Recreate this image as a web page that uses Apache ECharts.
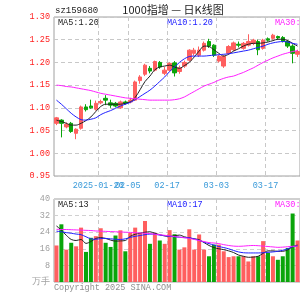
<!DOCTYPE html>
<html><head><meta charset="utf-8">
<script src="https://cdn.jsdelivr.net/npm/echarts/dist/echarts.min.js"></script>
<style>html,body{margin:0;padding:0;background:#fff}#c{width:300px;height:300px}</style>
</head><body><div id="c"></div>
<script>
const dates = ['2025-01-07','2025-01-08','2025-01-09','2025-01-10','2025-01-13','2025-01-14','2025-01-15','2025-01-16','2025-01-17',
 '2025-01-20','2025-01-21','2025-01-22','2025-01-23','2025-01-24','2025-01-27',
 '2025-02-05','2025-02-06','2025-02-07','2025-02-10','2025-02-11','2025-02-12','2025-02-13','2025-02-14',
 '2025-02-17','2025-02-18','2025-02-19','2025-02-20','2025-02-21','2025-02-24','2025-02-25','2025-02-26','2025-02-27','2025-02-28',
 '2025-03-03','2025-03-04','2025-03-05','2025-03-06','2025-03-07','2025-03-10','2025-03-11','2025-03-12','2025-03-13','2025-03-14',
 '2025-03-17','2025-03-18','2025-03-19','2025-03-20','2025-03-21','2025-03-24','2025-03-25'];
const opens  = [1.066,1.073,1.058,1.066,1.044,1.055,1.102,1.104,1.097,1.111,1.121,1.111,1.110,1.100,1.113,1.113,1.117,1.160,1.174,1.187,1.183,1.200,1.176,1.183,1.199,1.180,1.192,1.205,1.220,1.216,1.227,1.246,1.238,1.203,1.192,1.220,1.228,1.240,1.231,1.238,1.242,1.246,1.231,1.252,1.253,1.257,1.255,1.246,1.236,1.218];
const closes = [1.078,1.066,1.064,1.048,1.053,1.102,1.096,1.100,1.110,1.114,1.117,1.106,1.104,1.113,1.110,1.117,1.157,1.168,1.194,1.181,1.202,1.190,1.183,1.198,1.177,1.188,1.200,1.227,1.227,1.227,1.242,1.236,1.216,1.214,1.213,1.235,1.243,1.238,1.242,1.246,1.249,1.228,1.249,1.249,1.260,1.254,1.247,1.236,1.220,1.224];
const lows   = [1.062,1.035,1.055,1.045,1.031,1.052,1.092,1.098,1.094,1.108,1.106,1.100,1.101,1.098,1.107,1.110,1.115,1.153,1.170,1.176,1.180,1.186,1.172,1.180,1.169,1.175,1.188,1.202,1.215,1.212,1.224,1.232,1.212,1.200,1.188,1.217,1.225,1.233,1.228,1.235,1.238,1.216,1.228,1.246,1.250,1.250,1.244,1.232,1.198,1.212];
const highs  = [1.080,1.075,1.068,1.069,1.055,1.105,1.108,1.118,1.116,1.118,1.128,1.118,1.113,1.116,1.116,1.122,1.160,1.172,1.197,1.192,1.204,1.203,1.190,1.200,1.203,1.193,1.204,1.229,1.232,1.235,1.246,1.252,1.240,1.216,1.216,1.238,1.246,1.246,1.245,1.262,1.252,1.250,1.252,1.255,1.263,1.259,1.258,1.249,1.240,1.228];
const ma5  = [1.073,1.070,1.066,1.062,1.062,1.066,1.072,1.080,1.092,1.103,1.108,1.108,1.108,1.108,1.110,1.113,1.123,1.140,1.158,1.170,1.184,1.190,1.192,1.194,1.190,1.187,1.193,1.200,1.212,1.225,1.236,1.235,1.228,1.220,1.214,1.218,1.225,1.230,1.236,1.240,1.242,1.242,1.243,1.245,1.248,1.251,1.251,1.248,1.242,1.236];
const ma10 = [1.117,1.108,1.098,1.088,1.080,1.074,1.073,1.075,1.078,1.085,1.090,1.094,1.099,1.104,1.108,1.112,1.118,1.125,1.132,1.139,1.148,1.158,1.168,1.180,1.190,1.200,1.208,1.213,1.214,1.214,1.214,1.215,1.216,1.217,1.218,1.219,1.221,1.223,1.225,1.227,1.230,1.233,1.236,1.240,1.243,1.245,1.246,1.245,1.242,1.240];
const ma30 = [1.150,1.149,1.147,1.146,1.144,1.142,1.140,1.138,1.135,1.132,1.130,1.128,1.126,1.124,1.122,1.121,1.120,1.119,1.118,1.117,1.117,1.117,1.117,1.117,1.118,1.120,1.124,1.130,1.136,1.142,1.148,1.152,1.156,1.161,1.165,1.168,1.170,1.174,1.178,1.183,1.188,1.194,1.200,1.205,1.210,1.214,1.218,1.221,1.224,1.226];
const volumes = [17.6,27.8,15.6,18.9,17.2,26.2,14.5,21.3,22.1,25.9,18.9,16.9,22.4,24.9,14.8,23.7,26.2,23.7,29.4,18.4,23.7,20.0,18.4,25.0,23.0,15.6,16.7,25.4,15.6,22.9,15.6,12.4,18.0,18.0,14.8,12.0,12.4,12.4,12.4,9.9,12.4,12.4,19.7,14.0,12.4,10.7,12.4,16.4,33.0,20.0];
const vma5  = [27.0,25.0,22.5,20.5,20.0,20.5,18.6,19.5,21.0,21.4,21.0,20.2,19.7,19.8,20.0,22.0,23.0,23.5,24.0,24.2,23.5,22.8,22.2,22.0,22.3,22.6,21.8,21.2,20.8,20.4,19.0,17.6,16.6,16.0,15.6,15.0,14.2,13.0,12.4,11.9,12.0,12.4,13.8,15.0,15.0,14.8,14.8,15.5,17.0,17.8];
const vma10 = [24.5,24.2,23.8,23.5,23.1,22.8,21.8,20.8,20.6,20.9,21.0,20.8,20.6,20.5,20.8,21.5,22.0,22.4,22.8,23.1,23.0,22.6,22.3,22.0,21.8,21.6,21.4,21.3,20.8,20.0,19.2,18.5,17.8,17.1,16.6,16.0,15.2,14.5,14.1,14.0,14.0,14.0,14.1,14.3,14.5,14.8,15.3,16.0,17.0,17.4];
const vma30 = [25.4,25.3,25.3,25.2,25.1,25.0,24.9,24.8,24.6,24.5,24.4,24.3,24.2,24.1,24.0,23.9,23.8,23.6,23.5,23.3,23.0,22.8,22.5,22.2,21.9,21.6,21.3,21.0,20.5,20.0,19.5,19.0,18.8,18.5,18.0,17.6,17.3,17.2,17.3,17.5,17.6,17.5,17.3,17.1,16.9,16.7,16.8,17.0,17.2,17.3];
const tickLabels = {'2025-01-20':'2025-01-20','2025-02-05':'02-05','2025-02-17':'02-17','2025-03-03':'03-03','2025-03-17':'03-17'};
const firstTickDate = '2025-01-20';
const priceTicks = [0.95,1.00,1.05,1.10,1.15,1.20,1.25,1.30];
const volTicks = [0,8,16,24,32,40];
const volUnit = '万手';
const titleCode = 'sz159680';
const titleText = '1000指增 — 日K线图';
const legendPrice = ['MA5:1.20','MA10:1.20','MA30:1.16'];
const legendVol = ['MA5:13','MA10:17','MA30:19'];
const copyright = 'Copyright 2025 SINA.COM';

const RED = '#ff5f5f', GREEN = '#0aa50a';
const MONO = '"Liberation Mono", "DejaVu Sans Mono", monospace';
const isTick = (i) => tickLabels[dates[i]] !== undefined;

const chart = echarts.init(document.getElementById('c'), null, {renderer:'canvas'});
const candleData = dates.map((d,i)=>[opens[i],closes[i],lows[i],highs[i]]);
const volData = volumes.map((v,i)=>({value:v,itemStyle:{color: closes[i]>=opens[i]?RED:GREEN}}));
const N = dates.length;
const gw = N*5;

const labelStyle = {color:'#3a9ad9', fontFamily:MONO, fontSize:8.5, margin:5, padding:[0,5,0,0], hideOverlap:false};
const xCommon = (gi, showLabel, labelFilter) => ({
  type:'category', gridIndex:gi, data:dates, boundaryGap:true,
  axisLine:{show:false}, axisTick:{show:false},
  axisLabel:Object.assign({show:showLabel, interval:(i)=>labelFilter(i), formatter:(v)=>tickLabels[v]||''}, labelStyle),
  splitLine:{show:true, interval:(i)=>isTick(i), lineStyle:{color:'#c8c8c8', type:[4,3], width:1}}
});
const xFirst = {
  type:'category', gridIndex:0, data:dates, boundaryGap:true, position:'bottom',
  axisLine:{show:false}, axisTick:{show:false}, splitLine:{show:false},
  axisLabel:Object.assign({show:true, interval:(i)=>dates[i]===firstTickDate, formatter:(v)=>v===firstTickDate?tickLabels[v]:''}, labelStyle)
};

chart.setOption({
  animation:false,
  backgroundColor:'#fff',
  grid:[
    {left:54, top:17, width:gw, height:159, show:true, borderColor:'#a0a0a0', borderWidth:1, containLabel:false},
    {left:54, top:199, width:gw, height:83, show:true, borderColor:'#a0a0a0', borderWidth:1, containLabel:false}
  ],
  xAxis:[xCommon(0,true,(i)=>isTick(i) && dates[i]!==firstTickDate), xCommon(1,false,()=>false), xFirst],
  yAxis:[
    {type:'value', gridIndex:0, min:priceTicks[0], max:priceTicks[priceTicks.length-1], interval:0.05,
     axisLine:{show:false}, axisTick:{show:false},
     axisLabel:{color:'#ff2020', fontFamily:MONO, fontSize:8.5, margin:4, formatter:(v)=>v.toFixed(2)},
     splitLine:{lineStyle:{color:'#c8c8c8', type:[4,3]}}},
    {type:'value', gridIndex:1, min:volTicks[0], max:volTicks[volTicks.length-1], interval:8,
     axisLine:{show:false}, axisTick:{show:false},
     axisLabel:{color:'#a0a0a0', fontFamily:MONO, fontSize:8.5, margin:4, formatter:(v)=>v===0?volUnit:String(v)},
     splitLine:{lineStyle:{color:'#d0d0d0', type:[4,3]}}}
  ],
  series:[
    {type:'candlestick', xAxisIndex:0, yAxisIndex:0, data:candleData, barWidth:4,
     itemStyle:{color:RED, color0:GREEN, borderColor:RED, borderColor0:GREEN, borderWidth:1}},
    {type:'line', xAxisIndex:0, yAxisIndex:0, data:ma5, symbol:'none', smooth:0.3, lineStyle:{color:'#222', width:1}},
    {type:'line', xAxisIndex:0, yAxisIndex:0, data:ma10, symbol:'none', smooth:0.3, lineStyle:{color:'#2020ff', width:1}},
    {type:'line', xAxisIndex:0, yAxisIndex:0, data:ma30, symbol:'none', smooth:0.3, lineStyle:{color:'#ff20ff', width:1}},
    {type:'bar', xAxisIndex:1, yAxisIndex:1, data:volData, barWidth:4},
    {type:'line', xAxisIndex:1, yAxisIndex:1, data:vma5, symbol:'none', smooth:0.3, lineStyle:{color:'#222', width:1}},
    {type:'line', xAxisIndex:1, yAxisIndex:1, data:vma10, symbol:'none', smooth:0.3, lineStyle:{color:'#2020ff', width:1}},
    {type:'line', xAxisIndex:1, yAxisIndex:1, data:vma30, symbol:'none', smooth:0.3, lineStyle:{color:'#ff20ff', width:1}}
  ],
  graphic:[
    {type:'text', x:55, y:11, style:{text:titleCode, font:'9px '+MONO, fill:'#222', verticalAlign:'middle'}},
    {type:'text', x:173, y:10, style:{text:titleText, font:'11px "Noto Sans CJK SC", sans-serif', fill:'#222', align:'center', verticalAlign:'middle'}},
    {type:'text', x:58, y:22.5, style:{text:legendPrice[0], font:'8.5px '+MONO, fill:'#222', verticalAlign:'middle'}},
    {type:'text', x:167, y:22.5, style:{text:legendPrice[1], font:'8.5px '+MONO, fill:'#2020ff', verticalAlign:'middle'}},
    {type:'text', x:275, y:22.5, style:{text:legendPrice[2], font:'8.5px '+MONO, fill:'#ff20ff', verticalAlign:'middle'}},
    {type:'text', x:58, y:205, style:{text:legendVol[0], font:'8.5px '+MONO, fill:'#222', verticalAlign:'middle'}},
    {type:'text', x:167, y:205, style:{text:legendVol[1], font:'8.5px '+MONO, fill:'#2020ff', verticalAlign:'middle'}},
    {type:'text', x:275, y:205, style:{text:legendVol[2], font:'8.5px '+MONO, fill:'#ff20ff', verticalAlign:'middle'}},
    {type:'text', x:54, y:288, style:{text:copyright, font:'8.5px '+MONO, fill:'#909090', verticalAlign:'middle'}}
  ]
});
</script></body></html>
